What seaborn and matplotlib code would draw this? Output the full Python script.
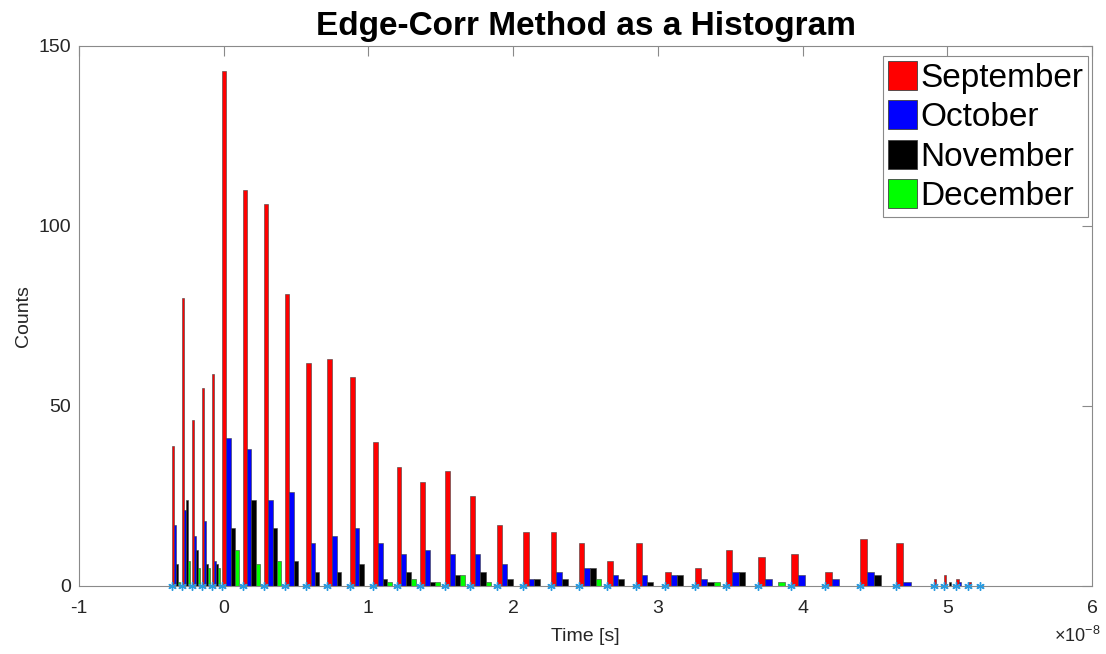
import numpy as np
import matplotlib
matplotlib.use("Agg")
import matplotlib.pyplot as plt
from matplotlib.patches import Patch
import seaborn as sns

# Bin edges of the time axis, in units of 1e-8 s
edges = [-0.36, -0.29, -0.22, -0.15, -0.08, -0.01, 0.134, 0.279, 0.425, 0.571,
         0.717, 0.873, 1.033, 1.194, 1.359, 1.530, 1.700, 1.885, 2.070, 2.259,
         2.454, 2.648, 2.848, 3.048, 3.257, 3.470, 3.695, 3.923, 4.156, 4.395,
         4.643, 4.910, 4.977, 5.062, 5.145, 5.226]

months = ["September", "October", "November", "December"]

september = [39, 80, 46, 55, 59, 143, 110, 106, 81, 62, 63, 58, 40, 33, 29, 32, 25, 17,
             15, 15, 12, 7, 12, 4, 5, 10, 8, 9, 4, 13, 12, 2, 3, 2, 1]
october = [17, 21, 14, 18, 7, 41, 38, 24, 26, 12, 14, 16, 12, 9, 10, 9, 9, 6,
           2, 4, 5, 3, 3, 3, 2, 4, 2, 3, 2, 4, 1, 0, 0, 1, 0]
november = [6, 24, 10, 6, 6, 16, 24, 16, 7, 4, 4, 6, 2, 4, 1, 3, 4, 2,
            2, 2, 5, 2, 1, 3, 1, 4, 0, 0, 0, 3, 0, 0, 1, 0, 0]
december = [1, 7, 5, 5, 5, 10, 6, 7, 0, 0, 0, 0, 1, 2, 1, 3, 1, 0,
            0, 0, 2, 0, 0, 0, 1, 0, 1, 0, 0, 0, 0, 0, 0, 0, 0]

colors = ["#ff0000", "#0000ff", "#000000", "#00ff00"]

sns.set_style("white")
plt.rcParams["font.family"] = ["Liberation Sans", "DejaVu Sans"]
plt.rcParams["mathtext.fontset"] = "custom"
plt.rcParams["mathtext.rm"] = "Liberation Sans"
plt.rcParams["axes.unicode_minus"] = False

fig = plt.figure(figsize=(11.06, 6.54), dpi=100)
ax = fig.add_axes([79 / 1106, 68 / 654, (1092 - 79) / 1106, (586 - 46) / 654])

e = np.asarray(edges)
left = e[:-1]
widths = np.diff(e)
series = [september, october, november, december]

# Grouped bars: each bin holds the four months side by side, 20% of bin width each
for j, (vals, col) in enumerate(zip(series, colors)):
    w = 0.2 * widths
    xc = left + (j + 0.5) * w
    ax.bar(xc, vals, width=w, color=col, edgecolor="#404040", linewidth=0.4, zorder=2)

# Bin edge markers along the baseline
ax.plot(e, np.zeros_like(e), linestyle="none", marker=(6, 2, 0), markersize=6,
        markeredgewidth=1.0, color="#2a9be0", clip_on=False, zorder=4)

ax.set_xlim(-1, 6)
ax.set_ylim(0, 150)
ax.set_xticks(range(-1, 7))
ax.set_yticks([0, 50, 100, 150])

for s in ax.spines.values():
    s.set_color("#8a8a8a")
    s.set_linewidth(0.8)
ax.tick_params(direction="in", length=7, width=0.8, color="#8a8a8a",
               top=True, right=True, labelsize=14, labelcolor="#262626")
ax.tick_params(axis="x", pad=10)
ax.tick_params(axis="y", pad=6)

ax.set_title("Edge-Corr Method as a Histogram", fontsize=24, fontweight="bold",
             color="black", pad=8)
ax.set_xlabel("Time [s]", fontsize=14, color="#262626", labelpad=8)
ax.set_ylabel("Counts", fontsize=14, color="#262626", labelpad=4)

fig.text(1100 / 1106, 1 - 636 / 654, r"$\times10^{-8}$", fontsize=13,
         color="#262626", ha="right", va="center")

handles = [Patch(facecolor=c, edgecolor="#404040", linewidth=0.6) for c in colors]
leg = ax.legend(handles, months, loc="upper right",
                bbox_to_anchor=((1088 - 79) / 1013, (586 - 56) / 540),
                fontsize=24, handlelength=0.85, handleheight=0.95, handletextpad=0.1,
                labelspacing=0.2, borderpad=0.15, borderaxespad=0.0,
                fancybox=False, framealpha=1, labelcolor="black")
leg.get_frame().set_edgecolor("#8a8a8a")
leg.get_frame().set_linewidth(0.8)

fig.savefig("out.png", dpi=100)
